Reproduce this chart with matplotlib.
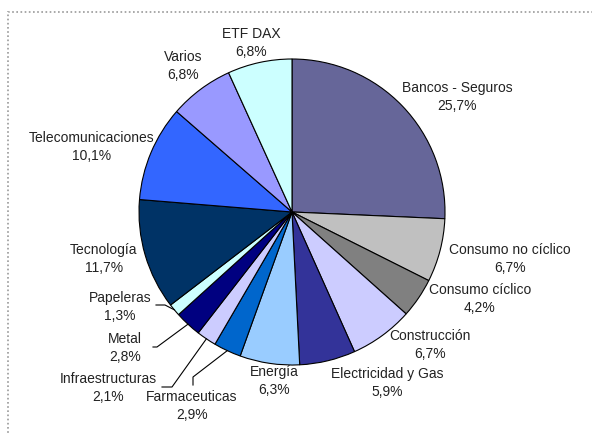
import numpy as np
import matplotlib
matplotlib.use("Agg")
import matplotlib.pyplot as plt
from matplotlib.patches import Rectangle

plt.rcParams['font.family'] = ['Liberation Sans', 'DejaVu Sans']

# Datos del gráfico (sentido horario desde las 12)
sectores = ["Bancos - Seguros", "Consumo no cíclico", "Consumo cíclico", "Construcción",
            "Electricidad y Gas", "Energía", "Farmaceuticas", "Infraestructuras",
            "Metal", "Papeleras", "Tecnología", "Telecomunicaciones", "Varios", "ETF DAX"]
pesos = [25.7, 6.7, 4.2, 6.7, 5.9, 6.3, 2.9, 2.1, 2.8, 1.3, 11.7, 10.1, 6.8, 6.8]
colores = ["#666699", "#C0C0C0", "#808080", "#CCCCFF", "#333399", "#99CCFF", "#0066CC",
           "#CCCCFF", "#000080", "#CCFFFF", "#003366", "#3366FF", "#9999FF", "#CCFFFF"]

# Posición de las etiquetas en píxeles (centro del bloque de texto)
pos_etiquetas = [(457, 97), (510, 259), (480, 299), (430, 345), (387, 383), (274, 381),
                 (192, 406), (108, 388), (125, 348), (120, 307), (104, 259), (92, 147),
                 (183, 66), (251, 43)]

# Líneas guía (puntos cerca de la etiqueta, el último va al borde del sector)
guias = {
    "Farmaceuticas": [(193, 385), (193, 377)],
    "Infraestructuras": [(162, 387), (172, 387)],
    "Metal": [(153, 347), (157, 347)],
    "Papeleras": [(156, 305), (165, 305)],
}

W, H = 592, 434
CX, CY, R = 292, 212, 153


def px(x, y):
    # Convierte píxeles de la imagen a coordenadas de datos
    return (x - CX) / R, (CY - y) / R


fig = plt.figure(figsize=(W / 100, H / 100), dpi=100)
ax = fig.add_axes([0, 0, 1, 1])

ax.pie(pesos, colors=colores, startangle=90, counterclock=False, radius=1.0,
       wedgeprops=dict(edgecolor="black", linewidth=0.8))

ax.set_aspect("auto")
ax.set_xlim(-CX / R, (W - CX) / R)
ax.set_ylim(-(H - CY) / R, CY / R)
ax.axis("off")

# Etiquetas
for nombre, valor, (lx, ly) in zip(sectores, pesos, pos_etiquetas):
    x, y = px(lx, ly)
    texto = f"{nombre}\n{valor:.1f}".replace(".", ",") + "%"
    ax.text(x, y, texto, ha="center", va="center", fontsize=10, linespacing=1.3,
            color="#222222")

# Líneas guía hasta el punto medio del sector
acum = np.cumsum([0] + pesos)
total = acum[-1]
for i, nombre in enumerate(sectores):
    if nombre not in guias:
        continue
    medio = (acum[i] + acum[i + 1]) / 2 / total
    ang = np.deg2rad(90 - 360 * medio)
    pts = [px(*p) for p in guias[nombre]] + [(np.cos(ang), np.sin(ang))]
    xs, ys = zip(*pts)
    ax.plot(xs, ys, color="black", linewidth=0.8)

# Marco punteado del área del gráfico
fig.patches.append(Rectangle((8 / W, -0.05), 1.2, (H - 12) / H + 0.05,
                             transform=fig.transFigure, fill=False,
                             edgecolor="#999999", linestyle=(0, (1, 1.5)),
                             linewidth=1.2))

fig.savefig("out.png", dpi=100)
